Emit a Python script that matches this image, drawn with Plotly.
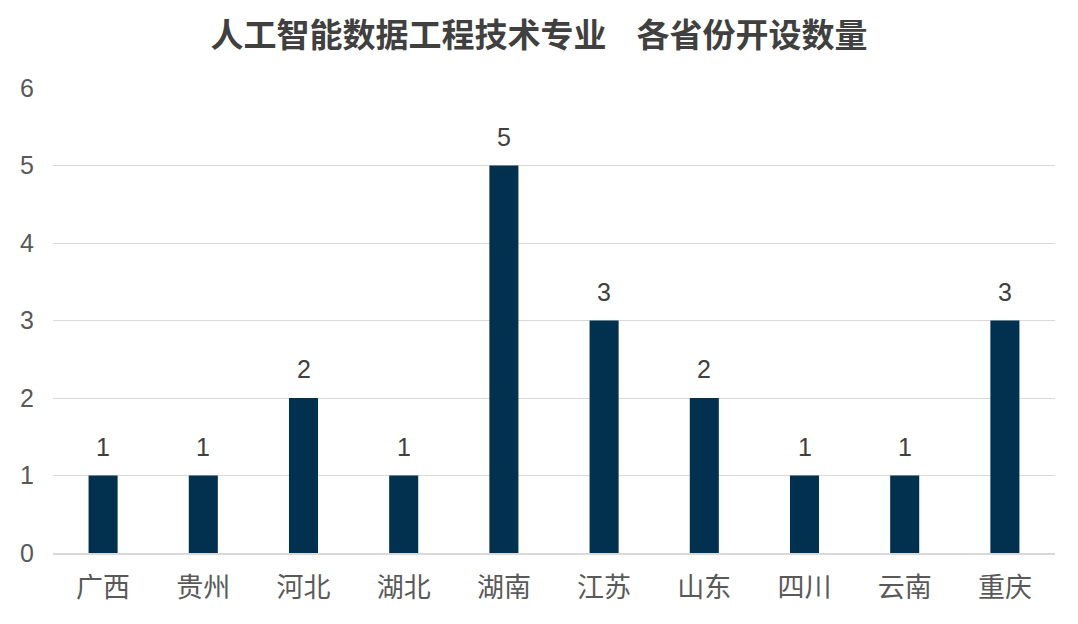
import plotly.graph_objects as go

# 各省份开设数量
provinces = ["广西", "贵州", "河北", "湖北", "湖南", "江苏", "山东", "四川", "云南", "重庆"]
counts = [1, 1, 2, 1, 5, 3, 2, 1, 1, 3]
y_ticks = [0, 1, 2, 3, 4, 5, 6]

title_text = "人工智能数据工程技术专业\u00a0\u00a0\u00a0\u00a0各省份开设数量"
font_cjk = "Noto Sans CJK SC, Noto Sans, sans-serif"
font_num = "Liberation Sans, Arial, sans-serif"

fig = go.Figure()

fig.add_trace(go.Bar(
    x=provinces,
    y=counts,
    marker=dict(color="#02304F", line=dict(width=0)),
    width=0.29,
    hoverinfo="x+y",
))

# value labels sitting a bit above each bar
for p, c in zip(provinces, counts):
    fig.add_annotation(
        x=p, y=c, text=str(c),
        showarrow=False, yanchor="middle", yshift=29,
        font=dict(size=25, color="#404040", family=font_num),
    )

fig.update_layout(
    width=1078,
    height=624,
    paper_bgcolor="white",
    plot_bgcolor="white",
    margin=dict(l=53, r=23, t=88, b=71),
    title=dict(
        text="<b>" + title_text + "</b>",
        x=0.5, xanchor="center",
        y=1 - 35 / 624, yanchor="middle",
        font=dict(size=33, color="#404040", family=font_cjk),
    ),
    showlegend=False,
    xaxis=dict(
        tickfont=dict(size=27, color="#595959", family=font_cjk),
        showline=True, linecolor="#D9D9D9", linewidth=1.5,
        ticks="", showgrid=False,
        ticklabelstandoff=10,
    ),
    yaxis=dict(
        range=[0, 6],
        tickvals=y_ticks,
        tickfont=dict(size=25, color="#595959", family=font_num),
        gridcolor="#D9D9D9", gridwidth=1,
        zeroline=False,
        showline=False,
        ticks="",
        ticklabelstandoff=18,
    ),
)

# drop the default 8px body margin so the figure sits at the page corner
fig.write_html("out.html", config={"displayModeBar": False},
               post_script="document.body.style.margin='0';")
